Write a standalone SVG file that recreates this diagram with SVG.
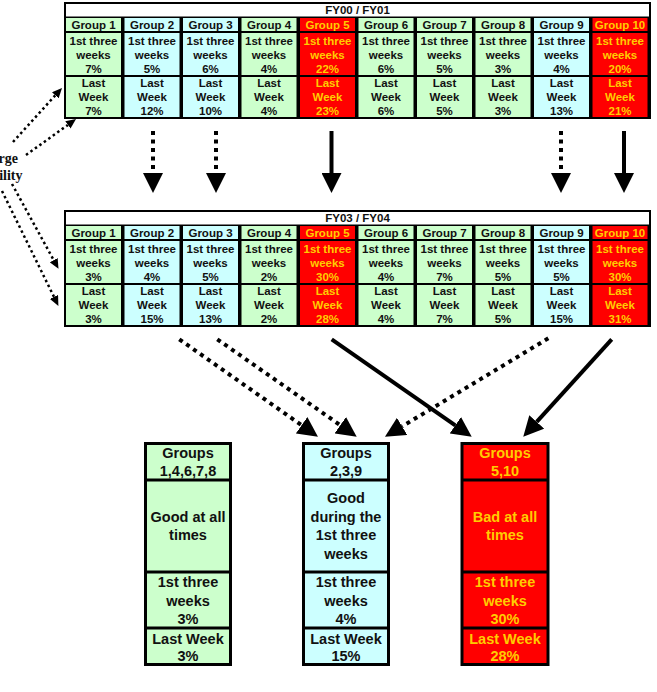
<svg xmlns="http://www.w3.org/2000/svg" width="657" height="692" viewBox="0 0 657 692">
<style>
.frame{fill:#000}
.white{fill:#fff}
.g{fill:#ccffcc}.c{fill:#ccffff}.r{fill:#ff0000}
text{font-family:"Liberation Sans",Arial,sans-serif;font-weight:bold;text-anchor:middle;fill:#111}
.t{font-size:11.5px}
.y{fill:#ffcc00}
.big{font-size:14.5px}
.ser{font-family:"Liberation Serif","Times New Roman",serif;font-size:14px;text-anchor:end}
.box{stroke:#000;stroke-width:3}
.div{stroke:#000;stroke-width:3}
.dot{stroke:#000;stroke-width:4;stroke-dasharray:4 4.5;fill:none}
.sol{stroke:#000;stroke-width:4;fill:none}
.sdot{stroke:#000;stroke-width:2.5;stroke-dasharray:2.5 3;fill:none}
</style>
<defs>
<marker id="big" viewBox="0 0 20 20" markerUnits="userSpaceOnUse" markerWidth="20" markerHeight="20" refX="0" refY="10" orient="auto"><path d="M0,0 L20,10 L0,20 z" fill="#000"/></marker>
<marker id="small" viewBox="0 0 10 9" markerUnits="userSpaceOnUse" markerWidth="10" markerHeight="9" refX="0" refY="4.5" orient="auto"><path d="M0,0 L10,4.5 L0,9 z" fill="#000"/></marker>
</defs>

<g id="table-fy00">
<rect class="frame" x="64" y="2" width="587" height="117"/>
<rect class="white" x="66" y="4" width="583" height="12.5"/>
<text class="t" x="357.5" y="14.3">FY00 / FY01</text>
<g id="t1-g1" transform="translate(66,0)"><rect class="g" y="18" width="55" height="13"/><rect class="g" y="33" width="55" height="42"/><rect class="g" y="77" width="55" height="40"/><text class="t" x="27.5" y="28.5">Group 1</text><text class="t" x="27.5" y="44.5">1st three<tspan x="27.5" dy="14.3">weeks</tspan><tspan x="27.5" dy="14.3">7%</tspan></text><text class="t" x="27.5" y="87">Last<tspan x="27.5" dy="14.2">Week</tspan><tspan x="27.5" dy="14.2">7%</tspan></text></g>
<g id="t1-g2" transform="translate(124.5,0)"><rect class="c" y="18" width="55" height="13"/><rect class="c" y="33" width="55" height="42"/><rect class="c" y="77" width="55" height="40"/><text class="t" x="27.5" y="28.5">Group 2</text><text class="t" x="27.5" y="44.5">1st three<tspan x="27.5" dy="14.3">weeks</tspan><tspan x="27.5" dy="14.3">5%</tspan></text><text class="t" x="27.5" y="87">Last<tspan x="27.5" dy="14.2">Week</tspan><tspan x="27.5" dy="14.2">12%</tspan></text></g>
<g id="t1-g3" transform="translate(183,0)"><rect class="c" y="18" width="55" height="13"/><rect class="c" y="33" width="55" height="42"/><rect class="c" y="77" width="55" height="40"/><text class="t" x="27.5" y="28.5">Group 3</text><text class="t" x="27.5" y="44.5">1st three<tspan x="27.5" dy="14.3">weeks</tspan><tspan x="27.5" dy="14.3">6%</tspan></text><text class="t" x="27.5" y="87">Last<tspan x="27.5" dy="14.2">Week</tspan><tspan x="27.5" dy="14.2">10%</tspan></text></g>
<g id="t1-g4" transform="translate(241.5,0)"><rect class="g" y="18" width="55" height="13"/><rect class="g" y="33" width="55" height="42"/><rect class="g" y="77" width="55" height="40"/><text class="t" x="27.5" y="28.5">Group 4</text><text class="t" x="27.5" y="44.5">1st three<tspan x="27.5" dy="14.3">weeks</tspan><tspan x="27.5" dy="14.3">4%</tspan></text><text class="t" x="27.5" y="87">Last<tspan x="27.5" dy="14.2">Week</tspan><tspan x="27.5" dy="14.2">4%</tspan></text></g>
<g id="t1-g5" transform="translate(300,0)"><rect class="r" y="18" width="55" height="13"/><rect class="r" y="33" width="55" height="42"/><rect class="r" y="77" width="55" height="40"/><text class="t y" x="27.5" y="28.5">Group 5</text><text class="t y" x="27.5" y="44.5">1st three<tspan x="27.5" dy="14.3">weeks</tspan><tspan x="27.5" dy="14.3">22%</tspan></text><text class="t y" x="27.5" y="87">Last<tspan x="27.5" dy="14.2">Week</tspan><tspan x="27.5" dy="14.2">23%</tspan></text></g>
<g id="t1-g6" transform="translate(358.5,0)"><rect class="g" y="18" width="55" height="13"/><rect class="g" y="33" width="55" height="42"/><rect class="g" y="77" width="55" height="40"/><text class="t" x="27.5" y="28.5">Group 6</text><text class="t" x="27.5" y="44.5">1st three<tspan x="27.5" dy="14.3">weeks</tspan><tspan x="27.5" dy="14.3">6%</tspan></text><text class="t" x="27.5" y="87">Last<tspan x="27.5" dy="14.2">Week</tspan><tspan x="27.5" dy="14.2">6%</tspan></text></g>
<g id="t1-g7" transform="translate(417,0)"><rect class="g" y="18" width="55" height="13"/><rect class="g" y="33" width="55" height="42"/><rect class="g" y="77" width="55" height="40"/><text class="t" x="27.5" y="28.5">Group 7</text><text class="t" x="27.5" y="44.5">1st three<tspan x="27.5" dy="14.3">weeks</tspan><tspan x="27.5" dy="14.3">5%</tspan></text><text class="t" x="27.5" y="87">Last<tspan x="27.5" dy="14.2">Week</tspan><tspan x="27.5" dy="14.2">5%</tspan></text></g>
<g id="t1-g8" transform="translate(475.5,0)"><rect class="g" y="18" width="55" height="13"/><rect class="g" y="33" width="55" height="42"/><rect class="g" y="77" width="55" height="40"/><text class="t" x="27.5" y="28.5">Group 8</text><text class="t" x="27.5" y="44.5">1st three<tspan x="27.5" dy="14.3">weeks</tspan><tspan x="27.5" dy="14.3">3%</tspan></text><text class="t" x="27.5" y="87">Last<tspan x="27.5" dy="14.2">Week</tspan><tspan x="27.5" dy="14.2">3%</tspan></text></g>
<g id="t1-g9" transform="translate(534,0)"><rect class="c" y="18" width="55" height="13"/><rect class="c" y="33" width="55" height="42"/><rect class="c" y="77" width="55" height="40"/><text class="t" x="27.5" y="28.5">Group 9</text><text class="t" x="27.5" y="44.5">1st three<tspan x="27.5" dy="14.3">weeks</tspan><tspan x="27.5" dy="14.3">4%</tspan></text><text class="t" x="27.5" y="87">Last<tspan x="27.5" dy="14.2">Week</tspan><tspan x="27.5" dy="14.2">13%</tspan></text></g>
<g id="t1-g10" transform="translate(592.5,0)"><rect class="r" y="18" width="55" height="13"/><rect class="r" y="33" width="55" height="42"/><rect class="r" y="77" width="55" height="40"/><text class="t y" x="27.5" y="28.5">Group 10</text><text class="t y" x="27.5" y="44.5">1st three<tspan x="27.5" dy="14.3">weeks</tspan><tspan x="27.5" dy="14.3">20%</tspan></text><text class="t y" x="27.5" y="87">Last<tspan x="27.5" dy="14.2">Week</tspan><tspan x="27.5" dy="14.2">21%</tspan></text></g>
</g>

<g id="table-fy03" transform="translate(0,208)">
<rect class="frame" x="64" y="2" width="587" height="117"/>
<rect class="white" x="66" y="4" width="583" height="12.5"/>
<text class="t" x="357.5" y="14.3">FY03 / FY04</text>
<g id="t2-g1" transform="translate(66,0)"><rect class="g" y="18" width="55" height="13"/><rect class="g" y="33" width="55" height="42"/><rect class="g" y="77" width="55" height="40"/><text class="t" x="27.5" y="28.5">Group 1</text><text class="t" x="27.5" y="44.5">1st three<tspan x="27.5" dy="14.3">weeks</tspan><tspan x="27.5" dy="14.3">3%</tspan></text><text class="t" x="27.5" y="87">Last<tspan x="27.5" dy="14.2">Week</tspan><tspan x="27.5" dy="14.2">3%</tspan></text></g>
<g id="t2-g2" transform="translate(124.5,0)"><rect class="c" y="18" width="55" height="13"/><rect class="c" y="33" width="55" height="42"/><rect class="c" y="77" width="55" height="40"/><text class="t" x="27.5" y="28.5">Group 2</text><text class="t" x="27.5" y="44.5">1st three<tspan x="27.5" dy="14.3">weeks</tspan><tspan x="27.5" dy="14.3">4%</tspan></text><text class="t" x="27.5" y="87">Last<tspan x="27.5" dy="14.2">Week</tspan><tspan x="27.5" dy="14.2">15%</tspan></text></g>
<g id="t2-g3" transform="translate(183,0)"><rect class="c" y="18" width="55" height="13"/><rect class="c" y="33" width="55" height="42"/><rect class="c" y="77" width="55" height="40"/><text class="t" x="27.5" y="28.5">Group 3</text><text class="t" x="27.5" y="44.5">1st three<tspan x="27.5" dy="14.3">weeks</tspan><tspan x="27.5" dy="14.3">5%</tspan></text><text class="t" x="27.5" y="87">Last<tspan x="27.5" dy="14.2">Week</tspan><tspan x="27.5" dy="14.2">13%</tspan></text></g>
<g id="t2-g4" transform="translate(241.5,0)"><rect class="g" y="18" width="55" height="13"/><rect class="g" y="33" width="55" height="42"/><rect class="g" y="77" width="55" height="40"/><text class="t" x="27.5" y="28.5">Group 4</text><text class="t" x="27.5" y="44.5">1st three<tspan x="27.5" dy="14.3">weeks</tspan><tspan x="27.5" dy="14.3">2%</tspan></text><text class="t" x="27.5" y="87">Last<tspan x="27.5" dy="14.2">Week</tspan><tspan x="27.5" dy="14.2">2%</tspan></text></g>
<g id="t2-g5" transform="translate(300,0)"><rect class="r" y="18" width="55" height="13"/><rect class="r" y="33" width="55" height="42"/><rect class="r" y="77" width="55" height="40"/><text class="t y" x="27.5" y="28.5">Group 5</text><text class="t y" x="27.5" y="44.5">1st three<tspan x="27.5" dy="14.3">weeks</tspan><tspan x="27.5" dy="14.3">30%</tspan></text><text class="t y" x="27.5" y="87">Last<tspan x="27.5" dy="14.2">Week</tspan><tspan x="27.5" dy="14.2">28%</tspan></text></g>
<g id="t2-g6" transform="translate(358.5,0)"><rect class="g" y="18" width="55" height="13"/><rect class="g" y="33" width="55" height="42"/><rect class="g" y="77" width="55" height="40"/><text class="t" x="27.5" y="28.5">Group 6</text><text class="t" x="27.5" y="44.5">1st three<tspan x="27.5" dy="14.3">weeks</tspan><tspan x="27.5" dy="14.3">4%</tspan></text><text class="t" x="27.5" y="87">Last<tspan x="27.5" dy="14.2">Week</tspan><tspan x="27.5" dy="14.2">4%</tspan></text></g>
<g id="t2-g7" transform="translate(417,0)"><rect class="g" y="18" width="55" height="13"/><rect class="g" y="33" width="55" height="42"/><rect class="g" y="77" width="55" height="40"/><text class="t" x="27.5" y="28.5">Group 7</text><text class="t" x="27.5" y="44.5">1st three<tspan x="27.5" dy="14.3">weeks</tspan><tspan x="27.5" dy="14.3">7%</tspan></text><text class="t" x="27.5" y="87">Last<tspan x="27.5" dy="14.2">Week</tspan><tspan x="27.5" dy="14.2">7%</tspan></text></g>
<g id="t2-g8" transform="translate(475.5,0)"><rect class="g" y="18" width="55" height="13"/><rect class="g" y="33" width="55" height="42"/><rect class="g" y="77" width="55" height="40"/><text class="t" x="27.5" y="28.5">Group 8</text><text class="t" x="27.5" y="44.5">1st three<tspan x="27.5" dy="14.3">weeks</tspan><tspan x="27.5" dy="14.3">5%</tspan></text><text class="t" x="27.5" y="87">Last<tspan x="27.5" dy="14.2">Week</tspan><tspan x="27.5" dy="14.2">5%</tspan></text></g>
<g id="t2-g9" transform="translate(534,0)"><rect class="c" y="18" width="55" height="13"/><rect class="c" y="33" width="55" height="42"/><rect class="c" y="77" width="55" height="40"/><text class="t" x="27.5" y="28.5">Group 9</text><text class="t" x="27.5" y="44.5">1st three<tspan x="27.5" dy="14.3">weeks</tspan><tspan x="27.5" dy="14.3">5%</tspan></text><text class="t" x="27.5" y="87">Last<tspan x="27.5" dy="14.2">Week</tspan><tspan x="27.5" dy="14.2">15%</tspan></text></g>
<g id="t2-g10" transform="translate(592.5,0)"><rect class="r" y="18" width="55" height="13"/><rect class="r" y="33" width="55" height="42"/><rect class="r" y="77" width="55" height="40"/><text class="t y" x="27.5" y="28.5">Group 10</text><text class="t y" x="27.5" y="44.5">1st three<tspan x="27.5" dy="14.3">weeks</tspan><tspan x="27.5" dy="14.3">30%</tspan></text><text class="t y" x="27.5" y="87">Last<tspan x="27.5" dy="14.2">Week</tspan><tspan x="27.5" dy="14.2">31%</tspan></text></g>
</g>

<g id="label-variability">
<text class="ser" x="18" y="162.5">rge</text>
<text class="ser" x="22.5" y="179.5">ility</text>
</g>

<g id="box-good" transform="translate(145.5,0)">
<rect class="g box" x="0" y="443.5" width="85" height="221"/>
<line class="div" x1="0" y1="480" x2="85" y2="480"/>
<line class="div" x1="0" y1="572" x2="85" y2="572"/>
<line class="div" x1="0" y1="628" x2="85" y2="628"/>
<text class="big" x="42.5" y="458">Groups<tspan x="42.5" dy="18">1,4,6,7,8</tspan></text>
<text class="big" x="42.5" y="522">Good at all<tspan x="42.5" dy="18.3">times</tspan></text>
<text class="big" x="42.5" y="587">1st three<tspan x="42.5" dy="18.5">weeks</tspan><tspan x="42.5" dy="18.5">3%</tspan></text>
<text class="big" x="42.5" y="643.5">Last Week<tspan x="42.5" dy="17.8">3%</tspan></text>
</g>

<g id="box-mixed" transform="translate(303.5,0)">
<rect class="c box" x="0" y="443.5" width="85" height="221"/>
<line class="div" x1="0" y1="480" x2="85" y2="480"/>
<line class="div" x1="0" y1="572" x2="85" y2="572"/>
<line class="div" x1="0" y1="628" x2="85" y2="628"/>
<text class="big" x="42.5" y="458">Groups<tspan x="42.5" dy="18">2,3,9</tspan></text>
<text class="big" x="42.5" y="503">Good<tspan x="42.5" dy="18.5">during the</tspan><tspan x="42.5" dy="18.5">1st three</tspan><tspan x="42.5" dy="18.5">weeks</tspan></text>
<text class="big" x="42.5" y="587">1st three<tspan x="42.5" dy="18.5">weeks</tspan><tspan x="42.5" dy="18.5">4%</tspan></text>
<text class="big" x="42.5" y="643.5">Last Week<tspan x="42.5" dy="17.8">15%</tspan></text>
</g>

<g id="box-bad" transform="translate(462,0)">
<rect class="r box" x="0" y="443.5" width="86" height="221"/>
<line class="div" x1="0" y1="480" x2="86" y2="480"/>
<line class="div" x1="0" y1="572" x2="86" y2="572"/>
<line class="div" x1="0" y1="628" x2="86" y2="628"/>
<text class="big y" x="43" y="458">Groups<tspan x="43" dy="18">5,10</tspan></text>
<text class="big y" x="43" y="522">Bad at all<tspan x="43" dy="18.3">times</tspan></text>
<text class="big y" x="43" y="587">1st three<tspan x="43" dy="18.5">weeks</tspan><tspan x="43" dy="18.5">30%</tspan></text>
<text class="big y" x="43" y="643.5">Last Week<tspan x="43" dy="17.8">28%</tspan></text>
</g>

<g id="connectors">
<line class="dot" x1="153" y1="131" x2="153" y2="173" marker-end="url(#big)"/>
<line class="dot" x1="216" y1="131" x2="216" y2="173" marker-end="url(#big)"/>
<line class="sol" x1="331.5" y1="131" x2="331.5" y2="173" marker-end="url(#big)"/>
<line class="dot" x1="561" y1="131" x2="561" y2="173" marker-end="url(#big)"/>
<line class="sol" x1="624" y1="131" x2="624" y2="173" marker-end="url(#big)"/>

<line class="dot" x1="179.3" y1="339.3" x2="301.6" y2="425.2" marker-end="url(#big)"/>
<line class="dot" x1="217.3" y1="339.3" x2="340.3" y2="425.2" marker-end="url(#big)"/>
<line class="sol" x1="331.7" y1="339.3" x2="455.3" y2="425.3" marker-end="url(#big)"/>
<line class="dot" x1="548.3" y1="338.3" x2="402.1" y2="426.4" marker-end="url(#big)"/>
<line class="sol" x1="611.7" y1="339.3" x2="536.7" y2="421.9" marker-end="url(#big)"/>

<line class="sdot" x1="13" y1="142" x2="55.3" y2="95.3" marker-end="url(#small)"/>
<line class="sdot" x1="26" y1="155" x2="67.9" y2="124.9" marker-end="url(#small)"/>
<line class="sdot" x1="12" y1="184" x2="53.7" y2="260.1" marker-end="url(#small)"/>
<line class="sdot" x1="2" y1="191" x2="54" y2="296.9" marker-end="url(#small)"/>
</g>
</svg>
